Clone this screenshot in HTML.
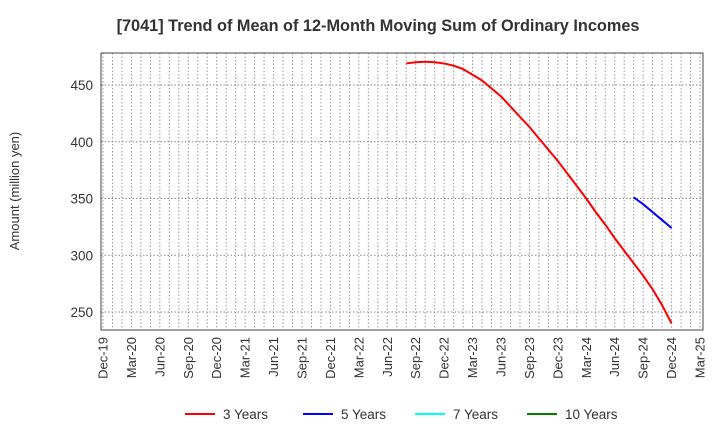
<!DOCTYPE html>
<html><head><meta charset="utf-8"><style>
body{margin:0;background:#fff;font-family:"Liberation Sans",sans-serif}
</style></head><body>
<svg id="c" width="720" height="440" xmlns="http://www.w3.org/2000/svg">
<text x="378" y="31" text-anchor="middle" font-size="16.3" font-weight="bold" fill="#333">[7041]  Trend of Mean of 12-Month Moving Sum of Ordinary Incomes</text>
<text transform="translate(19,191) rotate(-90)" text-anchor="middle" font-size="13" fill="#333">Amount (million yen)</text>
<g id="grid"></g><g id="axes"></g><g id="series"></g><g id="legend"></g>
</svg>
<script>
const xTickLabels=["Dec-19","Mar-20","Jun-20","Sep-20","Dec-20","Mar-21","Jun-21","Sep-21","Dec-21","Mar-22","Jun-22","Sep-22","Dec-22","Mar-23","Jun-23","Sep-23","Dec-23","Mar-24","Jun-24","Sep-24","Dec-24","Mar-25"];
const yTicks=[250,300,350,400,450];
const s3start=32; // months since Dec-19 (Aug-22)
const s3=[469,470,470.5,470,469,467,464,459,454,447,440,431,422,413,403,393,383,372,361,350,338,327,315,304,293,282,270,256,240];
const s5start=56; // Aug-24
const s5=[351,345,338,331,324];
const legendNames=["3 Years","5 Years","7 Years","10 Years"];
const legendColors=["#ff0000","#0000ff","#00ffff","#008000"];
const L=101,R=703,T=53,B=330,x0=103,mw=(700-103)/63;
const X=m=>x0+m*mw, Y=v=>312-(v-250)*(312-85)/200;
const ns="http://www.w3.org/2000/svg";
function mk(t,a,p){const e=document.createElementNS(ns,t);for(const k in a)e.setAttribute(k,a[k]);p.appendChild(e);return e;}
const g=document.getElementById('grid'),ax=document.getElementById('axes'),se=document.getElementById('series'),lg=document.getElementById('legend');
for(let m=0;m<=63;m++){const l=mk('line',{x1:X(m),x2:X(m),y1:T,y2:B,stroke:'#999','stroke-width':1,'stroke-dasharray':'1.5,2'},g);

}
yTicks.forEach(v=>{const l=mk('line',{x1:L,x2:R,y1:Y(v),y2:Y(v),stroke:'#888','stroke-width':1,'stroke-dasharray':'1.5,2'},g);


const t=mk('text',{x:L-8,y:Y(v)+5,'text-anchor':'end','font-size':13.5,fill:'#333'},ax);t.textContent=v;

});
const box=mk('rect',{x:L,y:T,width:R-L,height:B-T,fill:'none',stroke:'#444','stroke-width':1},ax);


xTickLabels.forEach((s,i)=>{const x=X(i*3);const t=mk('text',{transform:`translate(${x+4.5},${B+7}) rotate(-90)`,'text-anchor':'end','font-size':13,fill:'#333'},ax);t.textContent=s;

});
function line(arr,st,c,name){const p=mk('polyline',{points:arr.map((v,i)=>X(st+i)+','+Y(v)).join(' '),fill:'none',stroke:c,'stroke-width':2,'stroke-linejoin':'round'},se);

}
line(s3,s3start,'#ff0000','series-3-years');
line(s5,s5start,'#0000ff','series-5-years');
const lx=[185,303,415,527];
legendNames.forEach((n,i)=>{const gi=mk('g',{},lg);


mk('line',{x1:lx[i],x2:lx[i]+30,y1:414,y2:414,stroke:legendColors[i],'stroke-width':2},gi);
const t=mk('text',{x:lx[i]+38,y:419,'font-size':13.5,fill:'#333'},gi);t.textContent=n;});
</script>
</body></html>
